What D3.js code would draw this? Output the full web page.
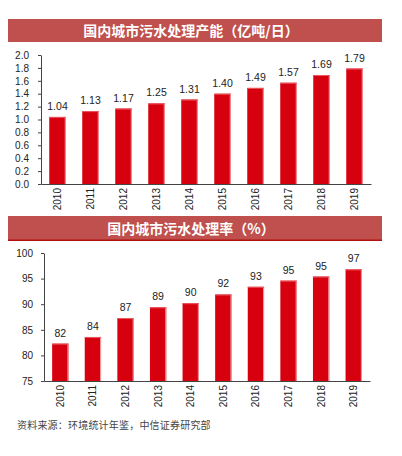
<!DOCTYPE html>
<html><head><meta charset="utf-8">
<script src="https://cdn.jsdelivr.net/npm/d3@7/dist/d3.min.js"></script>
<style>
body{margin:0;background:#fff;}
svg{display:block;}
</style></head>
<body>
<svg id="c" width="402" height="456"></svg>
<script>
const years = ["2010","2011","2012","2013","2014","2015","2016","2017","2018","2019"];
const capacity = [1.04,1.13,1.17,1.25,1.31,1.40,1.49,1.57,1.69,1.79];
const capacityTicks = [0,0.2,0.4,0.6,0.8,1.0,1.2,1.4,1.6,1.8,2.0];
const rate = [82.3,83.6,87.3,89.4,90.2,91.9,93.4,94.6,95.4,96.8];
const rateTicks = [75,80,85,90,95,100];
const title1 = "国内城市污水处理产能（亿吨/日）";
const title2 = "国内城市污水处理率（%）";
const source = "资料来源：环境统计年鉴，中信证券研究部";

const svg = d3.select("#c");
const latin = "'Liberation Sans', Arial, sans-serif";
const cjk = "'Noto Sans CJK SC', 'Noto Sans', sans-serif";
const barColor = "#d7000f";
const headColor = "#c0504d";

function header(y0, y1, text, border){
  svg.append("rect").attr("x",8).attr("y",y0).attr("width",374).attr("height",y1-y0).attr("fill",headColor);
  if(border){
    svg.append("rect").attr("x",8).attr("y",y1-1.5).attr("width",374).attr("height",1.5).attr("fill","#b01010");
  }
  svg.append("text").attr("x",191).attr("y",(y0+y1)/2).attr("dy","0.36em")
    .attr("text-anchor","middle").attr("fill","#fff").attr("font-family",cjk)
    .attr("font-weight","bold").attr("font-size","14px").text(text);
}

function chart(opts){
  const x = d3.scaleBand().domain(years).range(opts.xr).paddingInner(0.5).paddingOuter(0.25);
  const y = d3.scaleLinear().domain(opts.dom).range(opts.yr);
  const g = svg.append("g");
  g.selectAll("rect.bar").data(opts.vals).join("rect").attr("class","bar")
    .attr("x",(d,i)=>x(years[i])).attr("width",x.bandwidth())
    .attr("y",d=>y(d)).attr("height",d=>y(opts.dom[0])-y(d)).attr("fill",barColor);
  g.selectAll("line.edge").data(opts.vals).join("line").attr("class","edge")
    .attr("x1",(d,i)=>x(years[i])+x.bandwidth()-0.5).attr("x2",(d,i)=>x(years[i])+x.bandwidth()-0.5)
    .attr("y1",d=>y(d)).attr("y2",d=>y(opts.dom[0]))
    .attr("stroke","#f2a0a4").attr("stroke-width",1);
  g.selectAll("line.topedge").data(opts.vals).join("line").attr("class","topedge")
    .attr("x1",(d,i)=>x(years[i])).attr("x2",(d,i)=>x(years[i])+x.bandwidth())
    .attr("y1",d=>y(d)+0.5).attr("y2",d=>y(d)+0.5)
    .attr("stroke","#ea5a62").attr("stroke-width",1);
  g.selectAll("text.val").data(opts.vals).join("text").attr("class","val")
    .attr("x",(d,i)=>x(years[i])+x.bandwidth()/2).attr("y",d=>y(d)-7)
    .attr("text-anchor","middle").attr("font-family",latin).attr("font-size","10.5px")
    .attr("fill","#222").text(d=>d3.format(opts.fmt)(d));
  const ya = g.append("g").attr("transform",`translate(${opts.xr[0]},0)`)
    .call(d3.axisLeft(y).tickValues(opts.ticks).tickFormat(d3.format(opts.tfmt)).tickSize(3).tickSizeOuter(0).tickPadding(opts.tp));
  ya.select(".domain").attr("stroke","#444");
  ya.selectAll(".tick line").attr("stroke","#444");
  ya.selectAll("text").attr("font-family",latin).attr("font-size","10px").attr("fill","#222");
  const xa = g.append("g").attr("transform",`translate(0,${opts.yr[0]})`)
    .call(d3.axisBottom(x).tickSize(0).tickSizeOuter(0));
  xa.select(".domain").attr("stroke","#444").attr("stroke-width",1.2);
  xa.selectAll("text").attr("font-family",latin).attr("font-size","10px").attr("fill","#222")
    .attr("transform","rotate(-90)").attr("text-anchor","end")
    .attr("x",-4).attr("y",0).attr("dy","0.35em");
}

header(19, 42, title1, false);
chart({xr:[41,371], yr:[184,55], dom:[0,2.0], vals:capacity, ticks:capacityTicks, fmt:".2f", tfmt:".1f", tp:9});
header(216, 241, title2, true);
chart({xr:[44,370], yr:[381,253], dom:[75,100], vals:rate, ticks:rateTicks, fmt:".0f", tfmt:"d", tp:8});

svg.append("text").attr("x",17).attr("y",425).attr("dy","0.35em")
  .attr("font-family",cjk).attr("font-size","10px").attr("fill","#444")
  .attr("letter-spacing","0.2px").text(source);
</script>
</body></html>
